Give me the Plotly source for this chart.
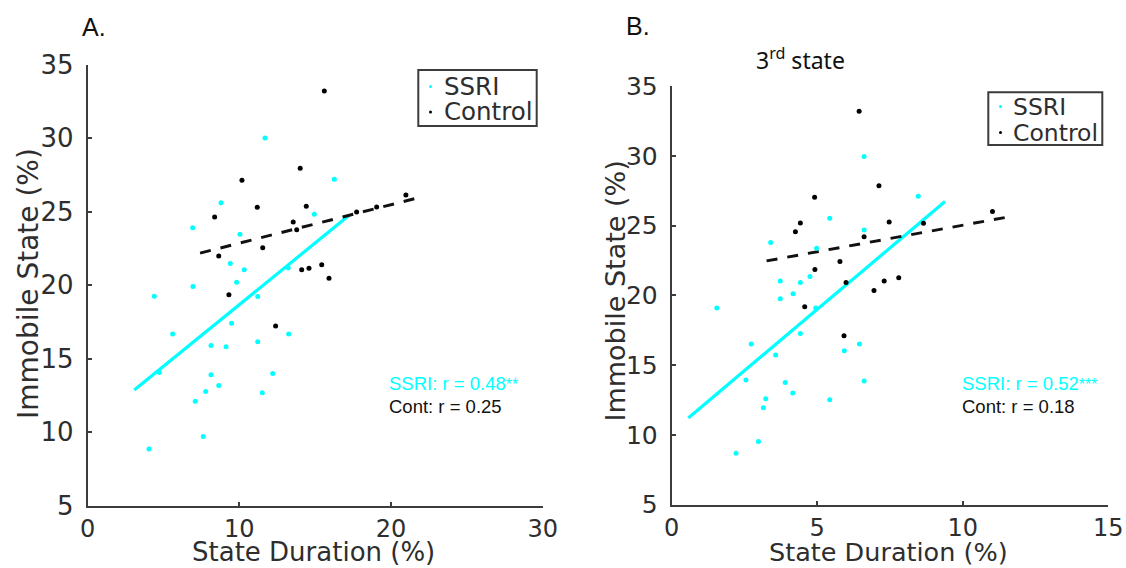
import plotly.graph_objects as go

W, H = 1126, 568

# ---- Panel A: overall state duration vs immobile state ----
ssri_dur_a = [11.69, 8.79, 6.92, 10.04, 14.94, 16.26, 9.40, 10.32, 9.82, 6.94,
              4.39, 11.21, 13.22, 9.49, 5.60, 13.25, 8.13, 9.12, 11.21, 4.72,
              8.13, 12.20, 8.64, 7.78, 11.51, 7.09, 7.62, 4.04]
ssri_imm_a = [30.01, 25.61, 23.91, 23.47, 24.82, 27.20, 21.48, 21.05, 20.20, 19.91,
              19.25, 19.23, 21.19, 17.41, 16.69, 16.69, 15.91, 15.82, 16.16, 14.07,
              13.92, 14.00, 13.19, 12.78, 12.69, 12.12, 9.71, 8.86]
ctrl_dur_a = [15.60, 14.01, 10.17, 11.18, 14.41, 8.37, 13.55, 13.78, 11.54, 8.64,
              9.31, 12.39, 14.11, 14.59, 15.43, 15.91, 20.98, 17.73, 19.05]
ctrl_imm_a = [33.20, 27.95, 27.13, 25.29, 25.36, 24.63, 24.29, 23.77, 22.55, 21.98,
              19.35, 17.23, 21.05, 21.16, 21.39, 20.48, 26.13, 24.97, 25.31]
ssri_fit_a_x = [3.07, 17.24]
ssri_fit_a_y = [12.87, 24.75]
ctrl_fit_a_x = [7.41, 21.90]
ctrl_fit_a_y = [22.18, 25.97]

# ---- Panel B: 3rd state duration vs immobile state ----
ssri_dur_b = [6.61, 5.43, 6.61, 8.47, 3.40, 4.98, 3.73, 4.42, 4.75, 4.17,
              3.73, 1.55, 4.95, 4.42, 2.73, 3.57, 5.93, 6.45, 2.55, 3.90,
              4.16, 3.23, 3.15, 5.43, 6.61, 2.98, 2.21]
ssri_imm_b = [29.94, 25.53, 24.69, 27.10, 23.78, 23.38, 21.02, 20.92, 21.35, 20.11,
              19.75, 19.09, 19.09, 17.27, 16.51, 15.72, 16.03, 16.51, 13.93, 13.76,
              13.00, 12.59, 11.95, 12.52, 13.86, 9.52, 8.68]
ctrl_dur_b = [6.44, 7.12, 4.91, 4.42, 4.25, 7.47, 8.65, 6.61, 11.02, 5.78,
              4.92, 5.99, 4.57, 5.92, 7.30, 7.80, 6.95]
ctrl_imm_b = [33.19, 27.86, 27.03, 25.19, 24.55, 25.26, 25.17, 24.19, 26.00, 22.42,
              21.85, 20.92, 19.18, 17.10, 21.02, 21.26, 20.35]
ssri_fit_b_x = [0.57, 9.39]
ssri_fit_b_y = [11.21, 26.72]
ctrl_fit_b_x = [3.26, 11.63]
ctrl_fit_b_y = [22.47, 25.64]

x_ticks_a = [0, 10, 20, 30]
x_ticks_b = [0, 5, 10, 15]
y_ticks = [5, 10, 15, 20, 25, 30, 35]

r_text_a = ["SSRI: r = 0.48", "**", "Cont: r = 0.25"]
r_text_b = ["SSRI: r = 0.52", "***", "Cont: r = 0.18"]

CYAN = "#00FFFF"
AXC = "#3c3c3c"
TXT = "#2e2e2e"


def px_x(p):
    return p / W


def px_y(p):
    return 1 - p / H


fig = go.Figure()

panels = [
    ("x", "y", ssri_dur_a, ssri_imm_a, ctrl_dur_a, ctrl_imm_a,
     ssri_fit_a_x, ssri_fit_a_y, ctrl_fit_a_x, ctrl_fit_a_y),
    ("x2", "y2", ssri_dur_b, ssri_imm_b, ctrl_dur_b, ctrl_imm_b,
     ssri_fit_b_x, ssri_fit_b_y, ctrl_fit_b_x, ctrl_fit_b_y),
]
for xa, ya, sx, sy, cx, cy, fsx, fsy, fcx, fcy in panels:
    fig.add_trace(go.Scatter(x=fsx, y=fsy, mode="lines", xaxis=xa, yaxis=ya,
                             line=dict(color=CYAN, width=3.2), showlegend=False,
                             hoverinfo="skip"))
    fig.add_trace(go.Scatter(x=fcx, y=fcy, mode="lines", xaxis=xa, yaxis=ya,
                             line=dict(color="#111111", width=3, dash="11px,10px"),
                             showlegend=False, hoverinfo="skip"))
    fig.add_trace(go.Scatter(x=sx, y=sy, mode="markers", xaxis=xa, yaxis=ya,
                             marker=dict(color=CYAN, size=5), name="SSRI",
                             showlegend=False))
    fig.add_trace(go.Scatter(x=cx, y=cy, mode="markers", xaxis=xa, yaxis=ya,
                             marker=dict(color="#000000", size=5), name="Control",
                             showlegend=False))

axis_common = dict(showline=True, linecolor=AXC, linewidth=2, mirror=False,
                   ticks="inside", ticklen=4, tickwidth=1.5, tickcolor=AXC,
                   showgrid=False, zeroline=False, automargin=False)

# pixel extents of the two plotting areas
fig.update_layout(
    width=W, height=H,
    margin=dict(l=0, r=0, t=0, b=0, autoexpand=False),
    paper_bgcolor="white", plot_bgcolor="white",
    xaxis=dict(domain=[px_x(87.7), px_x(542.7)], range=[0, 30], tickvals=x_ticks_a,
               anchor="y", ticklabelstandoff=0,
               tickfont=dict(family="DejaVu Sans", size=24, color=TXT),
               **axis_common),
    yaxis=dict(domain=[px_y(505.9), px_y(64.5)], range=[5, 35], tickvals=y_ticks,
               anchor="x", ticklabelstandoff=7,
               tickfont=dict(family="DejaVu Sans", size=26, color=TXT),
               **axis_common),
    xaxis2=dict(domain=[px_x(671.7), px_x(1108.3)], range=[0, 15], tickvals=x_ticks_b,
                anchor="y2", ticklabelstandoff=0,
                tickfont=dict(family="DejaVu Sans", size=24, color=TXT),
                **axis_common),
    yaxis2=dict(domain=[px_y(504.7), px_y(86)], range=[5, 35], tickvals=y_ticks,
                anchor="x2", ticklabelstandoff=7,
                tickfont=dict(family="DejaVu Sans", size=25, color=TXT),
                **axis_common),
)

ann = []


def text(x, y, s, size, family="DejaVu Sans", color=TXT, xanchor="center",
         angle=0):
    ann.append(dict(x=px_x(x), y=px_y(y), xref="paper", yref="paper", text=s,
                    showarrow=False, xanchor=xanchor, yanchor="middle",
                    textangle=angle,
                    font=dict(family=family, size=size, color=color)))


# axis titles
text(313.5, 552, "State Duration (%)", 26)
text(28, 284, "Immobile State (%)", 28, angle=-90)
text(888, 552, "State Duration (%)", 25.5)
text(615, 291.5, "Immobile State (%)", 27, angle=-90)

# panel labels and subtitle
text(80, 27, "A.", 25, family="Liberation Sans", color="#111111", xanchor="left")
text(624, 26, "B.", 25, family="Liberation Sans", color="#111111", xanchor="left")
text(754, 59, "3<sup>rd</sup> state", 23, family="Noto Sans", color="#111111",
     xanchor="left")

# correlation labels
for x0, (s1, stars, s2) in [(386.7, r_text_a), (960, r_text_b)]:
    text(x0, 383, s1 + "<span style='font-size:16px'>" + stars + "</span>", 18.5,
         family="Liberation Sans", color=CYAN, xanchor="left")
    text(x0, 406, s2, 18.5, family="Liberation Sans", color="#111111",
         xanchor="left")

# legend boxes
shapes = []
legend_specs = [
    (418.3, 70, 536.7, 126, 441.5, 430.5, 86.5, 112, 24.5),
    (988.3, 92.3, 1102.3, 145, 1011, 1000.5, 106.5, 132.5, 23.5),
]
for x0, y0, x1, y1, tx, mx, ys, yc, fs in legend_specs:
    shapes.append(dict(type="rect", xref="paper", yref="paper",
                       x0=px_x(x0), x1=px_x(x1), y0=px_y(y1), y1=px_y(y0),
                       line=dict(color=AXC, width=2), fillcolor="white"))
    for yy, col in [(ys, CYAN), (yc, "#000000")]:
        shapes.append(dict(type="circle", xref="paper", yref="paper",
                           x0=px_x(mx - 1.5), x1=px_x(mx + 1.5),
                           y0=px_y(yy + 1.5), y1=px_y(yy - 1.5),
                           line=dict(width=0), fillcolor=col))
    text(tx, ys, "SSRI", fs, xanchor="left")
    text(tx, yc, "Control", fs, xanchor="left")

fig.update_layout(annotations=ann, shapes=shapes)
fig.write_html("out.html")
